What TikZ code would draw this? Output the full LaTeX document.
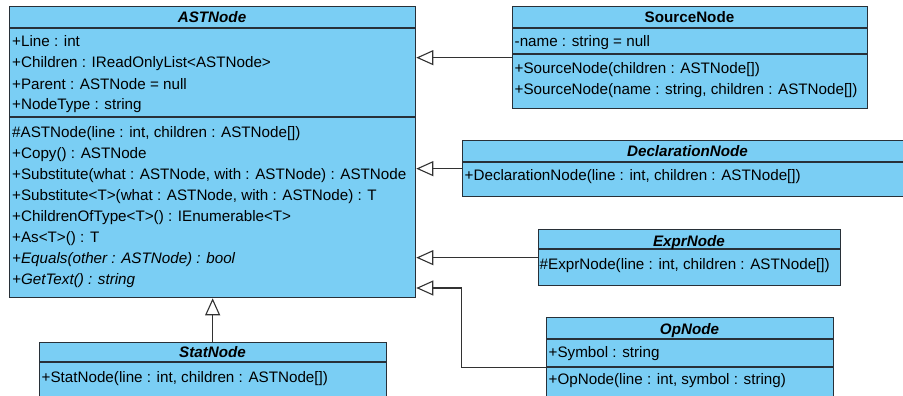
\documentclass[tikz,border=0pt]{standalone}
\usepackage{fontspec}
\setmainfont{Liberation Sans}
\usetikzlibrary{arrows.meta}
\definecolor{cfill}{RGB}{122,206,244}
\definecolor{cline}{RGB}{40,48,56}
\definecolor{cconn}{RGB}{50,50,50}
\begin{document}
\begin{tikzpicture}[x=1pt,y=-1pt,
  box/.style={draw=cline, fill=cfill, line width=1.3pt, inner sep=0pt, anchor=north west},
  sepline/.style={draw=cline, line width=1.3pt},
  row/.style={anchor=base west, inner sep=0pt, font=\fontsize{15.2}{18}\selectfont},
  irow/.style={row, font=\fontsize{15.2}{18}\selectfont\itshape},
  ttl/.style={anchor=base, inner sep=0pt, font=\fontsize{15.2}{18}\selectfont\bfseries\itshape},
  cttl/.style={anchor=base, inner sep=0pt, font=\fontsize{15.2}{18}\selectfont\bfseries},
  gen/.style={draw=cconn, line width=1.1pt, -{Triangle[open, length=17pt, width=15pt, line width=1.1pt]}}
]
\useasboundingbox (0,0) rectangle (903,396);

% ASTNode
\node[box, minimum width=406pt, minimum height=291pt] (ast) at (9,6) {};
\draw[sepline] (9,28) -- (415,28);
\draw[sepline] (9,117) -- (415,117);
\node[ttl] (astT) at (212,22.5) {ASTNode};
\node[row] (a1) at (12,47) {+Line : int};
\node[row] (a2) at (12,68) {+Children : IReadOnlyList<ASTNode>};
\node[row] (a3) at (12,89) {+Parent : ASTNode = null};
\node[row] (a4) at (12,110) {+NodeType : string};
\node[row] (m1) at (12,137) {\#ASTNode(line : int, children : ASTNode[])};
\node[row] (m2) at (12,158) {+Copy() : ASTNode};
\node[row] (m3) at (12,179) {+Substitute(what : ASTNode, with : ASTNode) : ASTNode};
\node[row] (m4) at (12,200) {+Substitute<T>(what : ASTNode, with : ASTNode) : T};
\node[row] (m5) at (12,221) {+ChildrenOfType<T>() : IEnumerable<T>};
\node[row] (m6) at (12,242) {+As<T>() : T};
\node[irow] (m7) at (12,263) {+Equals(other : ASTNode) : bool};
\node[irow] (m8) at (12,284) {+GetText() : string};

% SourceNode
\node[box, minimum width=355pt, minimum height=102pt] (src) at (512,6) {};
\draw[sepline] (512,28) -- (867,28);
\draw[sepline] (512,54) -- (867,54);
\node[cttl] (srcT) at (689.5,22.5) {SourceNode};
\node[row] (s1) at (514.5,47) {-name : string = null};
\node[row] (s2) at (514.5,74) {+SourceNode(children : ASTNode[])};
\node[row] (s3) at (514.5,95) {+SourceNode(name : string, children : ASTNode[])};

% DeclarationNode
\node[box, minimum width=451pt, minimum height=56pt] (decl) at (462,140) {};
\draw[sepline] (462,162) -- (913,162);
\node[ttl] (declT) at (687.5,156.5) {DeclarationNode};
\node[row] (d1) at (464.5,180) {+DeclarationNode(line : int, children : ASTNode[])};

% ExprNode
\node[box, minimum width=302pt, minimum height=56pt] (expr) at (538,229) {};
\draw[sepline] (538,249) -- (840,249);
\node[ttl] (exprT) at (689,246) {ExprNode};
\node[row] (e1) at (539.5,269) {\#ExprNode(line : int, children : ASTNode[])};

% OpNode
\node[box, minimum width=287pt, minimum height=100pt] (op) at (546,317) {};
\draw[sepline] (546,339) -- (833,339);
\draw[sepline] (546,367) -- (833,367);
\node[ttl] (opT) at (689.5,334) {OpNode};
\node[row] (o1) at (548.5,357) {+Symbol : string};
\node[row] (o2) at (548.5,384.5) {+OpNode(line : int, symbol : string)};

% StatNode
\node[box, minimum width=347pt, minimum height=80pt] (stat) at (39,342) {};
\draw[sepline] (39,362) -- (386,362);
\node[ttl] (statT) at (212.5,357) {StatNode};
\node[row] (t1) at (41.5,382) {+StatNode(line : int, children : ASTNode[])};

% generalizations
\draw[gen] (src.west) -- (src.west -| ast.east);
\draw[gen] (decl.west) -- (decl.west -| ast.east);
\draw[gen] (expr.west) -- (expr.west -| ast.east);
\coordinate (bend) at (461.5,288);
\draw[gen] (op.west) -- (op.west -| bend) -- (bend) -- (bend -| ast.east);
\draw[gen] (stat.north -| ast.south) -- (ast.south);
\end{tikzpicture}
\end{document}
